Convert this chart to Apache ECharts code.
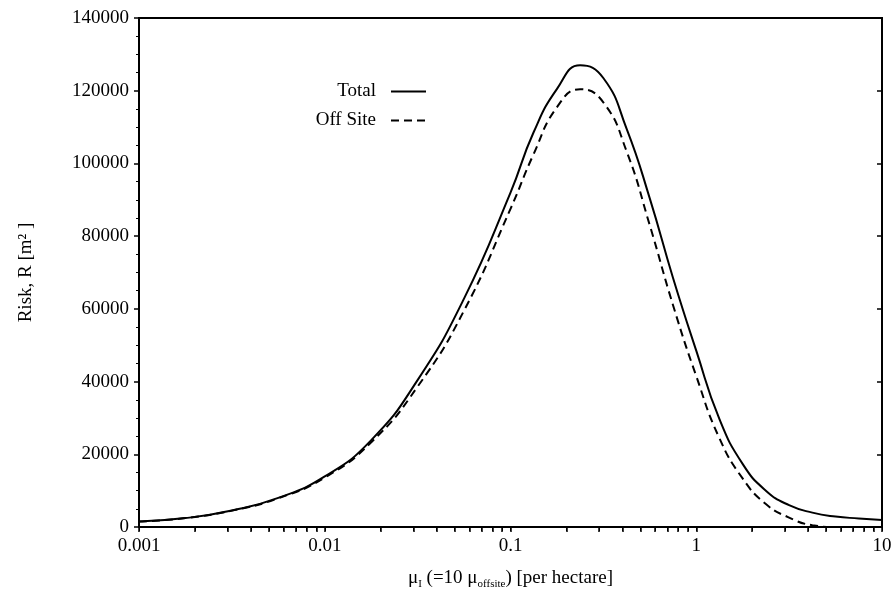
<!DOCTYPE html>
<html>
<head>
<meta charset="utf-8">
<script src="https://cdn.jsdelivr.net/npm/echarts@6/dist/echarts.min.js"></script>
<style>html,body{margin:0;padding:0;background:#fff;}#c{width:895px;height:598px;}</style>
</head>
<body>
<div id="c"></div>
<script>
// Data
var xValues = [0.001, 0.00178, 0.00316, 0.00562, 0.01, 0.0178, 0.0316, 0.0562, 0.1, 0.133, 0.178, 0.237, 0.316, 0.422, 0.562, 0.75, 1, 1.33, 1.78, 2.37, 3.16, 4.22, 5.62, 7.5, 10];
var totalValues = [1500, 2450, 4550, 8000, 13900, 23900, 40400, 62800, 92000, 108500, 120500, 127000, 123500, 109500, 90400, 68500, 48500, 29800, 17300, 10000, 6000, 3950, 2870, 2350, 1900];
var offsiteValues = [1500, 2450, 4500, 7900, 13600, 23300, 38600, 59500, 87500, 102500, 115500, 120400, 116800, 103300, 83000, 61000, 41500, 24500, 13300, 6300, 2600, 500, 0, 0, 0];
var seriesNames = ['Total', 'Off Site'];
var xTickLabels = [0.001, 0.01, 0.1, 1, 10];
var yTickLabels = [0, 20000, 40000, 60000, 80000, 100000, 120000, 140000];
var xMinorTicks = [];
xTickLabels.forEach(function (d, i) {
  for (var k = 1; k <= 9; k++) { if (i < xTickLabels.length - 1 || k === 1) xMinorTicks.push(+(d * k).toPrecision(3)); }
});

function pairs(xs, ys) { return xs.map(function (x, i) { return [x, ys[i]]; }); }

var FONT = 'Liberation Serif';
var FS = 19;
var chart = echarts.init(document.getElementById('c'));
var legendCommon = {
  right: 468, padding: 0, align: 'right', itemWidth: 35, itemHeight: 14,
  itemStyle: { opacity: 0 },
  textStyle: { fontFamily: FONT, fontSize: FS, color: '#000', padding: [0, 10, 0, 0] }
};
chart.setOption({
  animation: false,
  backgroundColor: '#fff',
  textStyle: { fontFamily: FONT, color: '#000' },
  grid: { left: 139, right: 13, top: 18, bottom: 71, show: true, borderColor: '#000', borderWidth: 2 },
  legend: [
    Object.assign({ data: [seriesNames[0]], top: 82 }, legendCommon),
    Object.assign({ data: [seriesNames[1]], top: 111 }, legendCommon)
  ],
  xAxis: [{
    type: 'log', logBase: 10, min: xTickLabels[0], max: xTickLabels[xTickLabels.length - 1], position: 'bottom',
    name: '{m|μ}{s|I} (=10{m| μ}{s|offsite}) [per hectare]',
    nameLocation: 'middle', nameGap: 40,
    nameTextStyle: {
      fontFamily: FONT, fontSize: FS, color: '#000',
      rich: {
        m: { fontFamily: FONT, fontSize: FS, color: '#000' },
        s: { fontFamily: FONT, fontSize: 11, color: '#000', padding: [12, 0, 0, 0] }
      }
    },
    axisLine: { show: true, lineStyle: { color: '#000', width: 2 } },
    axisTick: { show: true, inside: false, length: 5, customValues: xMinorTicks, lineStyle: { color: '#000', width: 1.5 } },
    axisLabel: { fontFamily: FONT, fontSize: FS, color: '#000', margin: 10,
      customValues: xTickLabels,
      formatter: function (v) { return String(v); } },
    splitLine: { show: false }
  }, {
    type: 'log', logBase: 10, min: xTickLabels[0], max: xTickLabels[xTickLabels.length - 1], position: 'top',
    axisLine: { show: true, lineStyle: { color: '#000', width: 2 } },
    axisTick: { show: true, inside: true, length: 4, customValues: xMinorTicks, lineStyle: { color: '#000', width: 1 } },
    axisLabel: { show: false },
    splitLine: { show: false }
  }],
  yAxis: [{
    type: 'value', min: 0, max: 140000, interval: 20000, position: 'left',
    name: 'Risk, R [m² ]', nameLocation: 'middle', nameGap: 103, nameRotate: 90,
    nameTextStyle: { fontFamily: FONT, fontSize: FS, color: '#000' },
    axisLine: { show: true, lineStyle: { color: '#000', width: 2 } },
    axisTick: { show: true, inside: false, length: 5, lineStyle: { color: '#000', width: 1.5 } },
    minorTick: { show: true, splitNumber: 4, length: 3, lineStyle: { color: '#000' } },
    axisLabel: { fontFamily: FONT, fontSize: FS, color: '#000', margin: 10,
      customValues: yTickLabels,
      formatter: function (v) { return String(v); } },
    splitLine: { show: false }
  }, {
    type: 'value', min: 0, max: 140000, interval: 20000, position: 'right',
    axisLine: { show: true, lineStyle: { color: '#000', width: 2 } },
    axisTick: { show: true, inside: true, length: 5, lineStyle: { color: '#000', width: 1.5 } },
    axisLabel: { show: false },
    splitLine: { show: false }
  }],
  series: [{
    name: seriesNames[0], type: 'line', xAxisIndex: 0, yAxisIndex: 0,
    data: pairs(xValues, totalValues), smooth: 0.5, symbol: 'none',
    lineStyle: { color: '#000', width: 2, type: 'solid' }, itemStyle: { color: '#000' }
  }, {
    name: seriesNames[1], type: 'line', xAxisIndex: 0, yAxisIndex: 0,
    data: pairs(xValues, offsiteValues), smooth: 0.5, symbol: 'none',
    lineStyle: { color: '#000', width: 2, type: [8, 5] }, itemStyle: { color: '#000' }
  }]
});
</script>
</body>
</html>
